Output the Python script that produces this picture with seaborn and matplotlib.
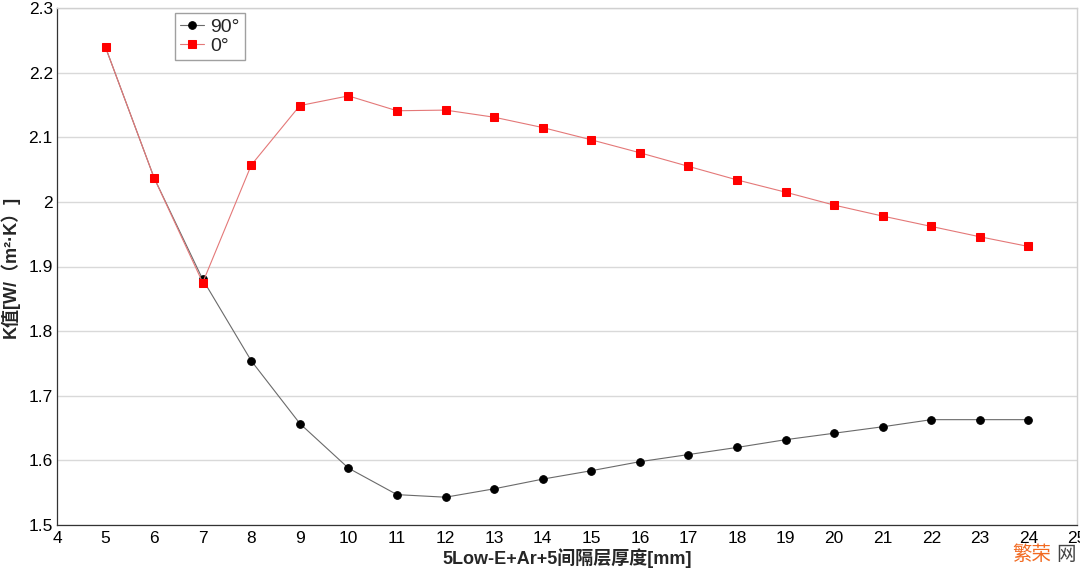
import matplotlib
matplotlib.use("Agg")
import matplotlib.pyplot as plt
import seaborn as sns
import pandas as pd
from matplotlib.ticker import FuncFormatter, MultipleLocator

thickness = list(range(5, 25))
k_90 = [2.239, 2.037, 1.880, 1.754, 1.657, 1.588, 1.547, 1.543, 1.556, 1.571,
        1.584, 1.598, 1.609, 1.620, 1.632, 1.642, 1.652, 1.663, 1.663, 1.663]
k_0 = [2.239, 2.037, 1.875, 2.057, 2.149, 2.164, 2.141, 2.142, 2.131, 2.115,
       2.096, 2.076, 2.055, 2.034, 2.015, 1.995, 1.978, 1.962, 1.946, 1.931]
series_names = ["90°", "0°"]
x_label = "5Low-E+Ar+5间隔层厚度[mm]"
y_label = "K值[W/（m²·K）]"
watermark = ["繁荣", "网"]

sns.set_style("white")
plt.rcParams['font.family'] = ['Liberation Sans', 'Noto Sans CJK SC', 'DejaVu Sans']

fig = plt.figure(figsize=(10.8, 5.7), dpi=100)
ax = fig.add_axes([57/1080, 45/570, 1020/1080, 517/570])

df90 = pd.DataFrame({"x": thickness, "y": k_90})
df0 = pd.DataFrame({"x": thickness, "y": k_0})

sns.lineplot(data=df90, x="x", y="y", ax=ax, color="#6a6a6a", linewidth=0.8,
             marker="o", markersize=5.5, markerfacecolor="black",
             markeredgecolor="black", label=series_names[0])
sns.lineplot(data=df0, x="x", y="y", ax=ax, color="#e47878", linewidth=0.8,
             marker="s", markersize=6, markerfacecolor="#ff0000",
             markeredgecolor="#ff0000", label=series_names[1])

ax.set_xlim(4, 25)
ax.set_ylim(1.5, 2.3)
ax.xaxis.set_major_locator(MultipleLocator(1))
ax.yaxis.set_major_locator(MultipleLocator(0.1))
ax.yaxis.set_major_formatter(FuncFormatter(lambda v, p: f"{v:g}"))
ax.yaxis.grid(True, color="#d9d9d9", linewidth=1.0)
ax.xaxis.grid(False)

ax.tick_params(axis="both", direction="in", length=5, width=0.8,
               labelsize=12.5, colors="black")
ax.tick_params(axis="x", pad=4)
ax.tick_params(axis="y", pad=3)

for s in ["left", "bottom"]:
    ax.spines[s].set_color("#333333")
    ax.spines[s].set_linewidth(0.9)
for s in ["top", "right"]:
    ax.spines[s].set_color("#d0d0d0")
    ax.spines[s].set_linewidth(1.0)

ax.set_xlabel(x_label, fontsize=13, fontweight="bold",
              family=['Liberation Sans', 'Noto Sans CJK SC'], labelpad=2)
ax.set_ylabel(y_label, fontsize=13, fontweight="bold",
              family=['Liberation Sans', 'Noto Sans CJK SC'], labelpad=6)

leg = ax.legend(loc="upper left", bbox_to_anchor=(0.116, 0.99), fontsize=14,
                frameon=True, fancybox=False, edgecolor="#888888",
                handlelength=1.2, handletextpad=0.35, borderpad=0.25,
                labelspacing=0.1, borderaxespad=0)
leg.get_frame().set_linewidth(1.0)

fig.text(0.937, 0.027, watermark[0], color="#f26a21", fontsize=14,
         family=['Noto Sans CJK SC'], ha="left", va="center")
fig.text(0.978, 0.027, watermark[1], color="#444444", fontsize=14,
         family=['Noto Sans CJK SC'], ha="left", va="center")

fig.savefig("out.png", dpi=100, facecolor="white")
